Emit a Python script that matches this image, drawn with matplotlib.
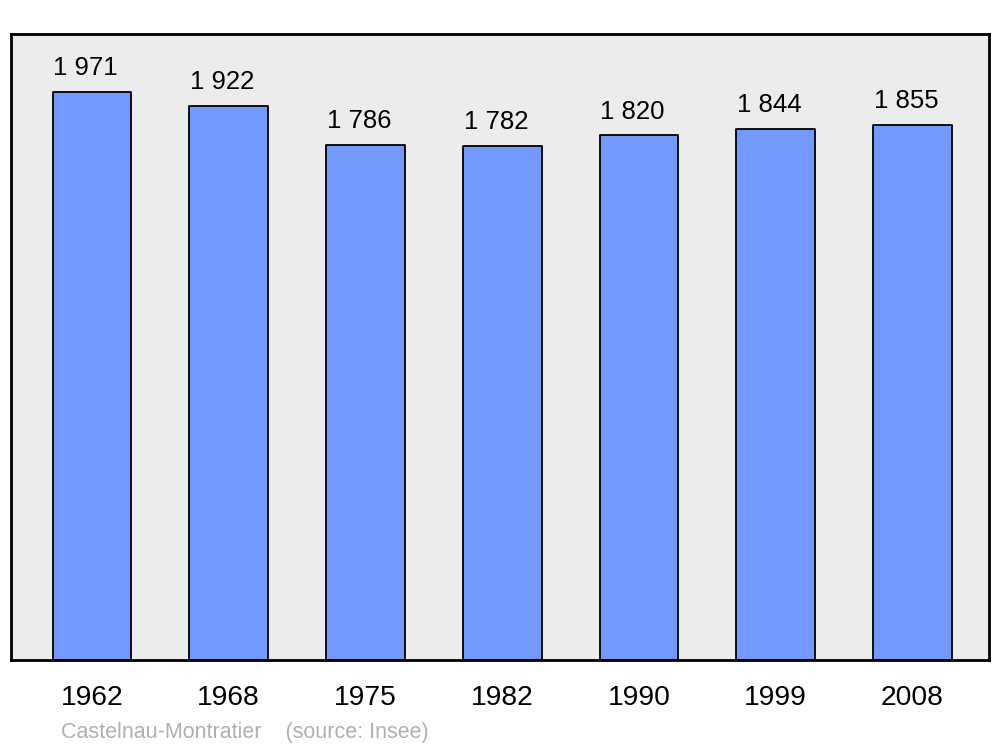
import matplotlib
matplotlib.use("Agg")
import matplotlib.pyplot as plt
import numpy as np

plt.rcParams['font.family'] = ['Liberation Sans', 'DejaVu Sans']

years = ['1962', '1968', '1975', '1982', '1990', '1999', '2008']
population = [1971, 1922, 1786, 1782, 1820, 1844, 1855]
place = "Castelnau-Montratier"
source = "(source: Insee)"

fig = plt.figure(figsize=(10, 7.47), dpi=100)
ax = fig.add_axes([0.011, 0.1165, 0.978, 0.838])
ax.set_facecolor('#ececec')

x = np.arange(len(years))
bars = ax.bar(x, population, width=0.575, color='#7399ff', edgecolor='black',
              linewidth=1.3, zorder=2)
for b in bars:
    b.set_joinstyle('round')

# value labels sit a bit left of the bar centre in the original
for xi, v in zip(x, population):
    lbl = f"{v:,}".replace(",", " ")
    ax.annotate(lbl, (xi, v), xytext=(-4.5, 12.2), textcoords='offset points',
                ha='center', va='baseline', fontsize=18.5)

ax.set_xlim(-0.592, 6.56)
ax.set_ylim(0, max(population) * 1.102)
ax.set_xticks(x)
ax.set_xticklabels(years, fontsize=20.3)
ax.tick_params(axis='x', length=0, pad=18)
ax.set_yticks([])
for s in ax.spines.values():
    s.set_linewidth(2)
    s.set_joinstyle('round')

fig.text(0.061, 0.012, place + "    " + source, fontsize=15.5, color='#b0b0b0',
         ha='left', va='baseline')

fig.savefig("out.png", dpi=100, facecolor='white')
